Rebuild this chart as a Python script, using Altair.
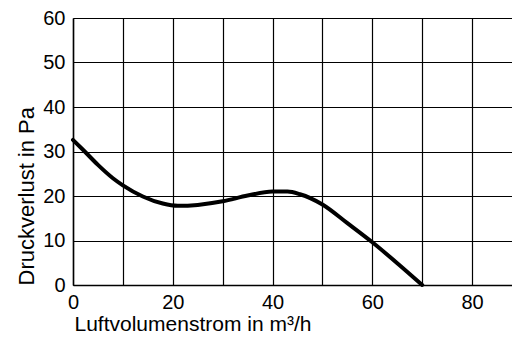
import altair as alt
import pandas as pd

flow = [0, 2, 5, 8, 10, 14, 18, 21, 25, 30, 35, 40, 43, 45.5, 50, 55, 60, 65, 70]
pressure = [32.6, 30.4, 27.0, 24.0, 22.4, 19.9, 18.3, 17.8, 18.0, 18.8, 20.1, 21.0, 21.0, 20.4, 18.1, 13.9, 9.6, 4.9, 0]

x_grid = [0, 10, 20, 30, 40, 50, 60, 70, 80]
y_grid = [0, 10, 20, 30, 40, 50, 60]

df = pd.DataFrame({"flow": flow, "pressure": pressure})

FONT = "Liberation Sans"

chart = (
    alt.Chart(df)
    .mark_line(color="black", strokeWidth=4, interpolate="monotone", strokeCap="round")
    .encode(
        x=alt.X(
            "flow:Q",
            scale=alt.Scale(domain=[0, 88], nice=False, zero=True),
            axis=alt.Axis(
                values=x_grid,
                labelExpr="datum.value % 20 == 0 ? datum.label : ''",
                title="Luftvolumenstrom in m³/h",
                titleX=1,
                titleY=45.5,
                titleAlign="left",
                titleBaseline="alphabetic",
                titleAnchor="start",
                ticks=False,
                labelPadding=7,
                grid=True,
                gridColor="black",
                gridOpacity=1,
                gridWidth=1.2,
                domainColor="black",
                domainWidth=1.5,
                labelFontSize=20,
                titleFontSize=21,
                labelFont=FONT,
                titleFont=FONT,
                labelColor="black",
                titleColor="black",
                titleFontWeight="normal",
                labelFlush=False,
                labelOverlap=False,
            ),
        ),
        y=alt.Y(
            "pressure:Q",
            scale=alt.Scale(domain=[0, 60], nice=False),
            axis=alt.Axis(
                values=y_grid,
                title="Druckverlust in Pa",
                titleX=-40,
                titleY=267,
                titleAngle=-90,
                titleAlign="left",
                titleBaseline="alphabetic",
                ticks=False,
                labelPadding=8,
                grid=True,
                gridColor="black",
                gridOpacity=1,
                gridWidth=1.2,
                domainColor="black",
                domainWidth=1.5,
                labelFontSize=20,
                titleFontSize=22,
                labelFont=FONT,
                titleFont=FONT,
                labelColor="black",
                titleColor="black",
                titleFontWeight="normal",
                labelFlush=False,
                labelOverlap=False,
            ),
        ),
    )
    .properties(
        width=439,
        height=267,
        autosize=alt.AutoSizeParams(type="none"),
        padding={"left": 65, "top": 10, "right": 0, "bottom": 50},
    )
    .configure_view(strokeOpacity=0)
)

chart.save("out.html", embed_options={"renderer": "svg", "actions": False})
